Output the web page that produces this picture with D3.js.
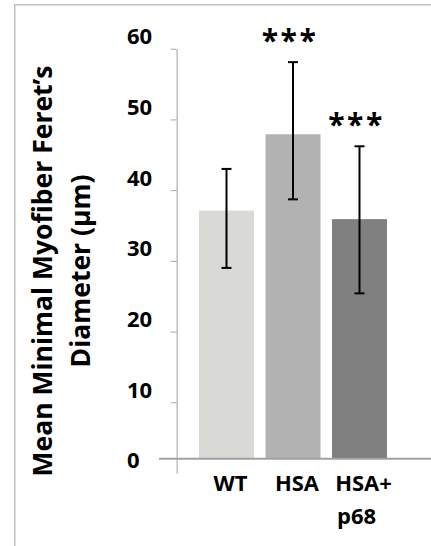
<!DOCTYPE html>
<html>
<head>
<meta charset="utf-8">
<script src="https://cdn.jsdelivr.net/npm/d3@7"></script>
<style>
  body { margin: 0; background: #fff; }
  svg text { font-family: "Open Sans", Lato, sans-serif; font-weight: bold; fill: #000; }
</style>
</head>
<body>
<div id="chart"></div>
<script>
// chart values
const categories = ['WT', 'HSA', 'HSA+ p68'];
const means = [37.1, 47.9, 35.9];
const errLow = [29.0, 38.7, 25.4];
const errHigh = [43.0, 58.1, 46.2];
const stars = ['', '***', '***'];
const barColors = ['#d9d9d5', '#b2b2b2', '#808080'];
const yTicks = [0, 10, 20, 30, 40, 50, 60];
const axisCross = 2; // horizontal axis crosses the value axis here

const W = 431, H = 546;

const svg = d3.select('#chart')
  .append('svg')
  .attr('width', W)
  .attr('height', H);

// outer frame
svg.append('rect')
  .attr('x', 14.75).attr('y', 4.75)
  .attr('width', W).attr('height', H)
  .attr('fill', 'none')
  .attr('stroke', '#bfbfbf')
  .attr('stroke-width', 1.5);

// scales
const x = d3.scaleBand()
  .domain(categories)
  .range([193.25, 392.75])
  .paddingInner(0.173)
  .paddingOuter(0.0865);

const y = d3.scaleLinear()
  .domain([0, 60])
  .range([473, 48.7]);

const axisX = 176.7;

// y axis
const yAxis = svg.append('g')
  .attr('transform', `translate(${axisX},0)`)
  .call(d3.axisLeft(y).tickValues(yTicks.filter(d => d > 0)).tickSize(6).tickSizeOuter(0).tickFormat(''));
yAxis.select('.domain').attr('stroke', '#c0c0c0').attr('stroke-width', 1.5);
yAxis.selectAll('.tick line').attr('stroke', '#a6a6a6').attr('stroke-width', 1);

// tick labels (sit a little above their ticks, as in the original)
svg.append('g')
  .selectAll('text')
  .data(yTicks)
  .enter()
  .append('text')
  .attr('x', 127)
  .attr('y', d => y(d) - 12.5)
  .attr('dy', '0.36em')
  .attr('font-size', 22)
  .text(d => d);

// bars
svg.append('g')
  .selectAll('rect')
  .data(categories)
  .enter()
  .append('rect')
  .attr('x', d => x(d))
  .attr('width', x.bandwidth())
  .attr('y', (d, i) => y(means[i]))
  .attr('height', (d, i) => y(axisCross) - y(means[i]))
  .attr('fill', (d, i) => barColors[i]);

// x axis line
svg.append('line')
  .attr('x1', 159).attr('x2', W)
  .attr('y1', y(axisCross)).attr('y2', y(axisCross))
  .attr('stroke', '#a0a0a0')
  .attr('stroke-width', 2);

// error bars
const err = svg.append('g').attr('stroke', '#000').attr('stroke-width', 2);
categories.forEach((c, i) => {
  const cx = x(c) + x.bandwidth() / 2;
  err.append('line').attr('x1', cx).attr('x2', cx).attr('y1', y(errLow[i])).attr('y2', y(errHigh[i]));
  err.append('line').attr('x1', cx - 5).attr('x2', cx + 5).attr('y1', y(errLow[i])).attr('y2', y(errLow[i]));
  err.append('line').attr('x1', cx - 5).attr('x2', cx + 5).attr('y1', y(errHigh[i])).attr('y2', y(errHigh[i]));
});

// significance stars
svg.append('g')
  .selectAll('text')
  .data(categories)
  .enter()
  .append('text')
  .attr('x', d => x(d) + x.bandwidth() / 2 - 3)
  .attr('y', (d, i) => y(errHigh[i]) - 11)
  .attr('text-anchor', 'middle')
  .attr('font-family', '"DejaVu Sans", sans-serif')
  .attr('font-size', 30)
  .attr('letter-spacing', 2.5)
  .text((d, i) => stars[i]);

// category labels
const catLabels = svg.append('g')
  .selectAll('text')
  .data(categories)
  .enter()
  .append('text')
  .attr('x', d => x(d) + x.bandwidth() / 2 + 4)
  .attr('y', 491)
  .attr('text-anchor', 'middle')
  .attr('font-size', 22);
catLabels.each(function (d) {
  const lines = d.split(' ');
  const t = d3.select(this);
  lines.forEach((ln, k) => {
    t.append('tspan')
      .attr('x', t.attr('x') - (k > 0 ? 7 : 0))
      .attr('dy', k === 0 ? 0 : 33)
      .text(ln);
  });
});

// y axis title
const title = svg.append('text')
  .attr('transform', 'translate(52,271) rotate(-90)')
  .attr('text-anchor', 'middle')
  .attr('font-size', 26.5);
title.append('tspan').attr('x', 0).attr('dy', 0).text('Mean Minimal Myofiber Feret\u2019s');
title.append('tspan').attr('x', 0).attr('dy', 38).text('Diameter (\u03bcm)');
</script>
</body>
</html>
